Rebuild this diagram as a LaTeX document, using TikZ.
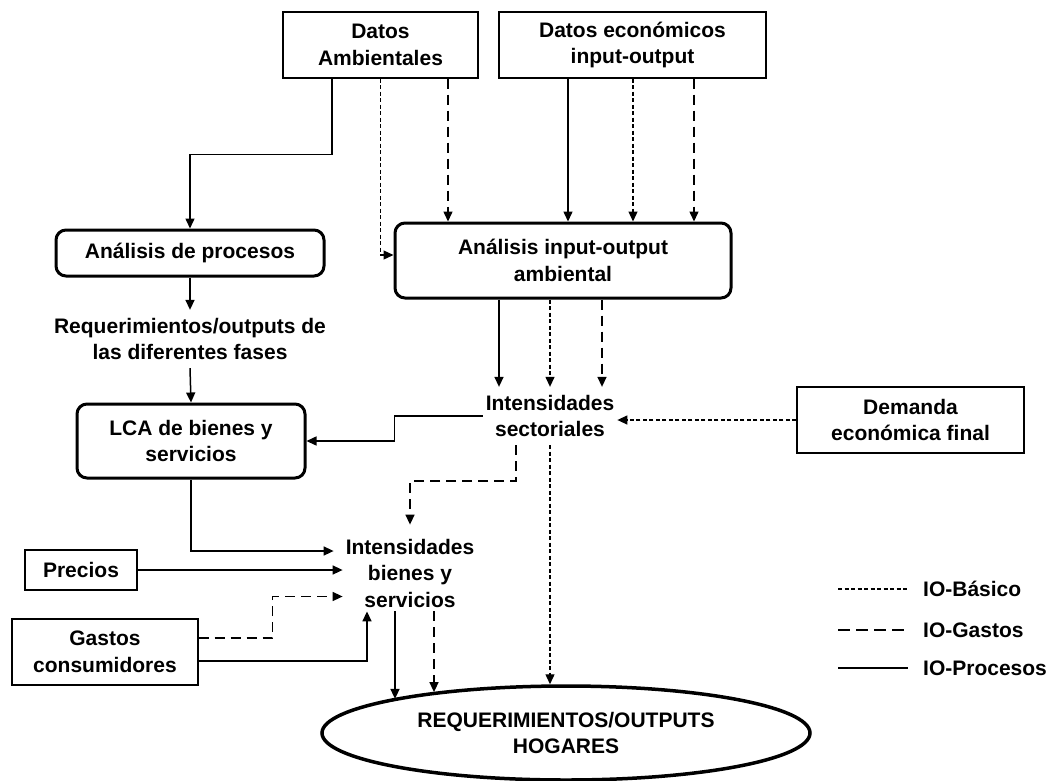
\documentclass[tikz,border=0pt]{standalone}
\usepackage{fontspec}
\setmainfont{Liberation Sans}
\usetikzlibrary{arrows.meta}
\usetikzlibrary{shapes.geometric}

\begin{document}
\begin{tikzpicture}[x=1pt, y=-1pt,
                    font=\fontsize{21}{26.5}\selectfont\bfseries,
                    roundnode/.style={rectangle, rounded corners=10pt, draw, line width=3pt, align=center, inner sep=0pt},
                    squarednode/.style={rectangle, draw, line width=1.2pt, align=center, inner sep=0pt},
                    textnode/.style={align=center, inner xsep=3pt, inner ysep=8pt},
                    ovalnode/.style={ellipse, draw, line width=3.5pt, align=center, inner sep=0pt},
                    flecha/.style={-{Triangle[length=10pt,width=9pt]}},
                    iobasico/.style={line width=1.3pt, dash pattern=on 4pt off 2.5pt},
                    iogastos/.style={line width=1.5pt, dash pattern=on 10pt off 6pt},
                    ioprocesos/.style={line width=1.5pt},
                   ]
    \useasboundingbox (0,0) rectangle (1055,780);
    %Nodes
    \node[squarednode, minimum width=195pt, minimum height=66pt] (datamb)   at (380.5,45)  {Datos\\Ambientales};
    \node[squarednode, minimum width=267pt, minimum height=66pt] (dateco)   at (632.5,45)  {Datos económicos\\input-output};
    \node[roundnode,   minimum width=268pt, minimum height=46pt] (anproc)   at (190,253)   {Análisis de procesos};
    \node[roundnode,   minimum width=336pt, minimum height=75pt] (anio)     at (563,260.5) {Análisis input-output\\ambiental};
    \node[textnode]                                              (reqfases) at (190,339)   {Requerimientos/outputs de\\las diferentes fases};
    \node[roundnode,   minimum width=228pt, minimum height=74pt] (lca)      at (191,441)   {LCA de bienes y\\servicios};
    \node[textnode]                                              (intsect)  at (550,416)   {Intensidades\\sectoriales};
    \node[squarednode, minimum width=227pt, minimum height=66pt] (demanda)  at (910.5,420) {Demanda\\económica final};
    \node[textnode, inner ysep=4pt]                              (intbien)  at (410,573)   {Intensidades\\bienes y\\servicios};
    \node[squarednode, minimum width=112pt, minimum height=40pt] (precios)  at (81,570)    {Precios};
    \node[squarednode, minimum width=186pt, minimum height=66pt] (gastos)   at (105,652)   {Gastos\\consumidores};
    \node[ovalnode,    minimum width=488pt, minimum height=94pt] (hogares)  at (566,733)   {REQUERIMIENTOS/OUTPUTS\\HOGARES};

    %Legend
    \node[anchor=west, inner sep=0pt] (legbas) at (923,589) {IO-Básico};
    \node[anchor=west, inner sep=0pt] (leggas) at (923,630) {IO-Gastos};
    \node[anchor=west, inner sep=0pt] (legpro) at (923,668) {IO-Procesos};
    \draw[iobasico]   ([xshift=-85pt]legbas.west) -- ([xshift=-15pt]legbas.west);
    \draw[iogastos, dash pattern=on 12pt off 6pt] ([xshift=-85pt]leggas.west) -- ([xshift=-15pt]leggas.west);
    \draw[ioprocesos] ([xshift=-85pt]legpro.west) -- ([xshift=-15pt]legpro.west);

    %Lines
    \draw[ioprocesos, flecha] ([xshift=-48.5pt]datamb.south) -- ++(0,76) -| (anproc.north);
    \draw[iobasico, flecha]   (datamb.south) |- ([yshift=5.5pt]anio.west);
    \draw[iogastos, flecha]   ([xshift=67.5pt]datamb.south) -- ([xshift=67.5pt]datamb.south |- anio.north);
    \foreach \dx/\estilo in {-64.5/ioprocesos, 0.5/iobasico, 61.5/iogastos}
        \draw[\estilo, flecha] ([xshift=\dx pt]dateco.south) -- ([xshift=\dx pt]dateco.south |- anio.north);
    \foreach \dx/\estilo in {-64/ioprocesos, -13/iobasico, 39/iogastos}
        \draw[\estilo, flecha] ([xshift=\dx pt]anio.south) -- ([xshift=\dx pt]anio.south |- intsect.north);

    \draw[ioprocesos, flecha] (anproc.south) -- (reqfases.north);
    \draw[ioprocesos, flecha] (reqfases.south) -- (lca.north);
    \draw[ioprocesos, flecha] (intsect.west) -- ++(-88,0) |- (lca.east);
    \draw[iobasico, flecha]   (demanda.west) -- (demanda.west -| intsect.east);
    \draw[iogastos, flecha]   ([xshift=-34pt]intsect.south) -- ++(0,36) -| ([yshift=10pt]intbien.north);
    \draw[iobasico, flecha]   (intsect.south) -- (intsect.south |- hogares.north);

    \draw[ioprocesos, flecha] (lca.south) |- ([xshift=-9pt, yshift=22pt]intbien.west);
    \draw[ioprocesos, flecha] (precios.east) -- (precios.east -| intbien.west);
    \draw[iogastos, flecha]   ([yshift=14pt]gastos.east) -- ++(74,0) |- ([yshift=-23.5pt]intbien.west);
    \draw[ioprocesos, flecha] ([yshift=-9pt]gastos.east) -| ([xshift=-43pt]intbien.south);
    \draw[ioprocesos, flecha] ([xshift=-15pt]intbien.south) -- ([xshift=-15pt]intbien.south |- hogares.169);
    \draw[iogastos, flecha]   ([xshift=24pt]intbien.south) -- ([xshift=24pt]intbien.south |- hogares.163);
\end{tikzpicture}
\end{document}
